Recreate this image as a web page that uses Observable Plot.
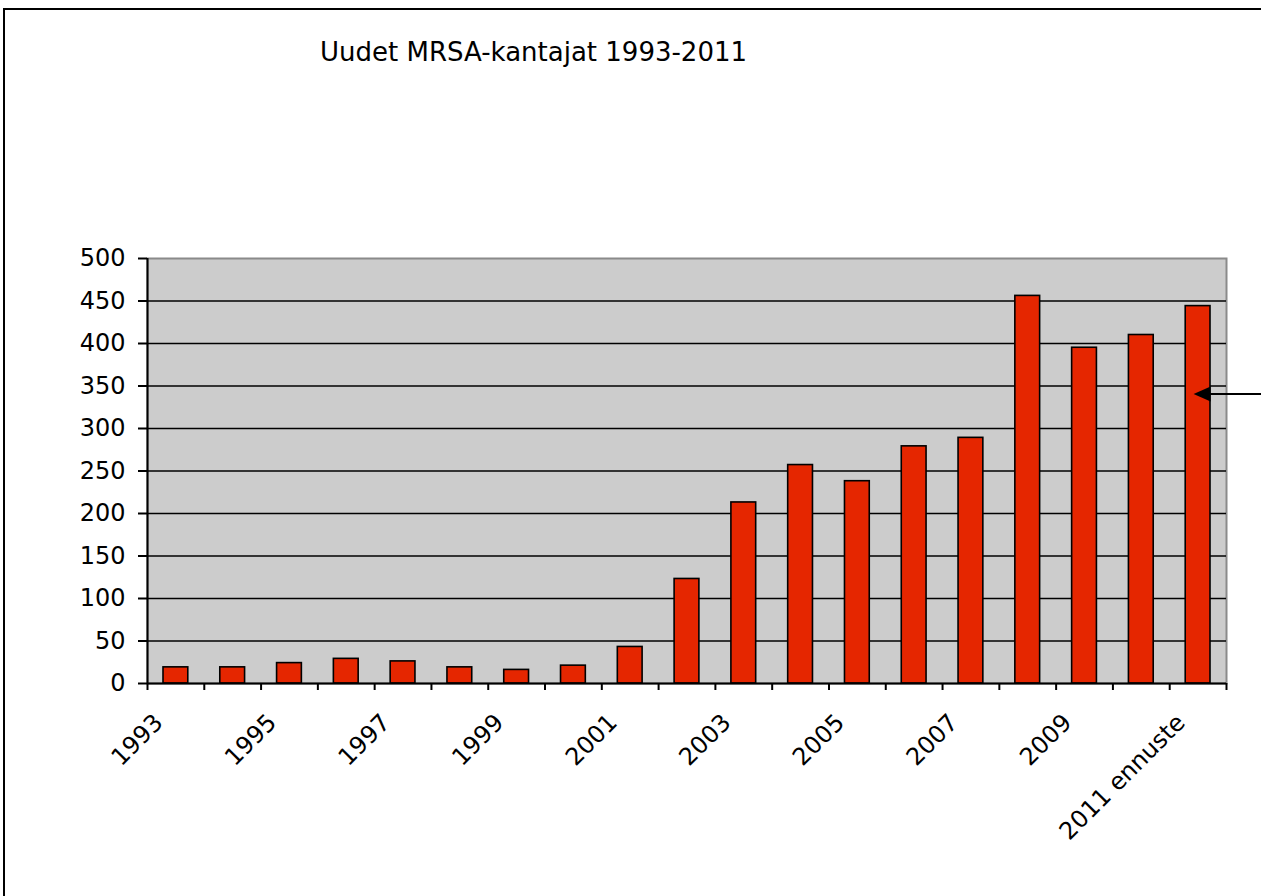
<!DOCTYPE html>
<html>
<head>
<meta charset="utf-8">
<script src="https://cdn.jsdelivr.net/npm/d3@7"></script>
<script src="https://cdn.jsdelivr.net/npm/@observablehq/plot@0.6"></script>
<style>
  html, body { margin: 0; padding: 0; background: #fff; overflow: hidden; }
  #wrap { position: relative; width: 1261px; height: 896px; }
  #frame { position: absolute; left: 3px; top: 8px; width: 1400px; height: 1000px; border: 2px solid #000; box-sizing: border-box; }
  #title { position: absolute; left: 320px; top: 39px; font-family: "DejaVu Sans", sans-serif; font-size: 26px; line-height: 1; color: #000; white-space: nowrap; }
  #chart { position: absolute; left: 0; top: 0; }
</style>
</head>
<body>
<div id="wrap">
  <div id="frame"></div>
  <div id="title">Uudet MRSA-kantajat 1993-2011</div>
  <div id="chart"></div>
</div>
<script>
// Data
const years = [1993, 1994, 1995, 1996, 1997, 1998, 1999, 2000, 2001, 2002, 2003, 2004, 2005, 2006, 2007, 2008, 2009, 2010, 2011];
const values = [19, 19, 24, 29, 26, 19, 16, 21, 43, 123, 213, 257, 238, 279, 289, 456, 395, 410, 444];
const tickLabels = ["1993", "", "1995", "", "1997", "", "1999", "", "2001", "", "2003", "", "2005", "", "2007", "", "2009", "", "2011 ennuste"];
const yTicks = [0, 50, 100, 150, 200, 250, 300, 350, 400, 450, 500];
const arrowAnnotation = [{year: 2011, value: 340}];

const data = years.map((year, i) => ({year, value: values[i], label: tickLabels[i]}));
const boundaries = [...years, years[years.length - 1] + 1];

const fontFamily = "DejaVu Sans, sans-serif";

const arrowMark = (index, scales, values, dimensions) => {
  const g = d3.create("svg:g");
  const {width} = dimensions;
  for (const a of arrowAnnotation) {
    const tipX = scales.x(a.year + 0.5) - 4;
    const y = scales.y(a.value);
    g.append("line")
      .attr("x1", tipX + 12).attr("x2", width)
      .attr("y1", y).attr("y2", y)
      .attr("stroke", "#000").attr("stroke-width", 2.2);
    g.append("path")
      .attr("d", `M${tipX},${y} L${tipX + 17},${y - 7.5} L${tipX + 17},${y + 7.5} Z`)
      .attr("fill", "#000");
  }
  return g.node();
};

const chart = Plot.plot({
  width: 1261,
  height: 896,
  marginLeft: 147,
  marginRight: 35,
  marginTop: 258,
  marginBottom: 213,
  style: {fontFamily, fontSize: "24px", color: "#000", background: "transparent", overflow: "visible"},
  x: {type: "linear", domain: [years[0], years[years.length - 1] + 1], axis: null},
  y: {domain: [0, 500], axis: null},
  marks: [
    Plot.frame({fill: "#cccccc", stroke: "#8a8a8a", strokeWidth: 2}),
    Plot.ruleY(yTicks.filter(t => t > 0 && t < 500), {stroke: "#000", strokeWidth: 1.4}),
    Plot.rectY(data, {
      x1: d => d.year,
      x2: d => d.year + 1,
      y: "value",
      fill: "#e52600",
      stroke: "#000",
      strokeWidth: 1.6,
      insetLeft: 16,
      insetRight: 16
    }),
    Plot.ruleX([years[0]], {stroke: "#000", strokeWidth: 2}),
    Plot.ruleY([0], {stroke: "#000", strokeWidth: 2}),
    Plot.axisY({
      ticks: yTicks,
      tickSize: 9,
      tickPadding: 13,
      strokeWidth: 2,
      fontSize: 24,
      label: null,
      tickFormat: d => String(d)
    }),
    Plot.axisX({
      ticks: boundaries,
      tickSize: 7,
      strokeWidth: 2,
      label: null,
      tickFormat: () => ""
    }),
    Plot.text(data.filter(d => d.label), {
      x: d => d.year + 0.5,
      y: () => 0,
      text: "label",
      rotate: -45,
      textAnchor: "end",
      lineAnchor: "middle",
      fontSize: 24,
      dx: -17,
      dy: 35,
      fill: "#000"
    }),
    arrowMark
  ]
});

document.getElementById("chart").appendChild(chart);
</script>
</body>
</html>
